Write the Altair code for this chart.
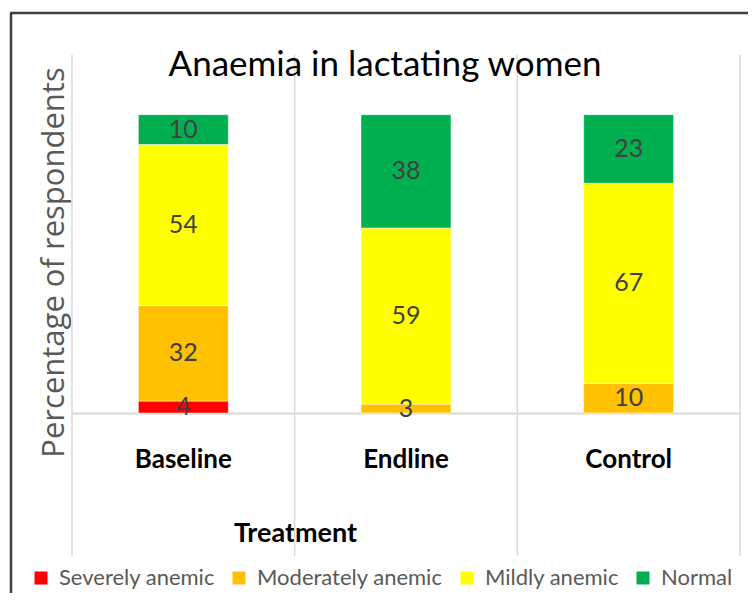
import altair as alt
import pandas as pd

treatments = ["Baseline", "Endline", "Control"]
statuses = ["Severely anemic", "Moderately anemic", "Mildly anemic", "Normal"]
severely = [4, 0, 0]
moderately = [32, 3, 10]
mildly = [54, 59, 67]
normal = [10, 38, 23]
colors = ["#FF0000", "#FFC000", "#FFFF00", "#00B050"]

rows = []
for si, (s, vals) in enumerate(zip(statuses, [severely, moderately, mildly, normal])):
    for t, v in zip(treatments, vals):
        rows.append({"Treatment": t, "Status": s, "order": si, "value": v})
df = pd.DataFrame(rows)

W, H = 668, 358
GRID = "#D9D9D9"
P_IN = 0.596
STEP = W / 3.0
HALF_GAP = STEP * P_IN / 2.0

x_axis = alt.Axis(
    title="Treatment", grid=False, ticks=False,
    domainColor=GRID, domainWidth=2, labelPadding=33, labelAngle=0,
    labelFont="Lato", labelFontSize=26, labelFontWeight="bold", labelColor="#000000",
    titleFont="Lato", titleFontSize=27, titleFontWeight="bold", titleColor="#000000",
    titleX=223, titleY=128, titleAlign="center", titleBaseline="alphabetic",
)
y_axis = alt.Axis(
    labels=False, ticks=False, domain=False, grid=False,
    title="Percentage of respondents", titleX=-9, titleY=207, titleAngle=270,
    titleAlign="center", titleBaseline="alphabetic",
    titleFont="Open Sans", titleFontSize=31, titleFontWeight="normal", titleColor="#595959",
)

xscale = alt.Scale(paddingInner=P_IN, paddingOuter=P_IN / 2)
yscale = alt.Scale(domain=[0, 120])

seps = alt.Chart(df).transform_filter("datum.order == 0").mark_rule(
    color=GRID, strokeWidth=1.5, xOffset=-HALF_GAP
).encode(
    x=alt.X("Treatment:N", sort=treatments, scale=xscale, axis=x_axis, bandPosition=0),
    y=alt.value(0), y2=alt.value(501),
)
one = pd.DataFrame({"k": [0]})
sep_last = alt.Chart(one).mark_rule(color=GRID, strokeWidth=1.5).encode(
    x=alt.value(W), y=alt.value(0), y2=alt.value(501))

bars = alt.Chart(df).transform_filter("datum.value > 0").mark_bar(
    stroke="white", strokeWidth=1, strokeOpacity=0.5
).encode(
    x=alt.X("Treatment:N", sort=treatments, scale=xscale, axis=x_axis),
    y=alt.Y("value:Q", stack="zero", scale=yscale, axis=y_axis),
    color=alt.Color("Status:N", scale=alt.Scale(domain=statuses, range=colors),
                    legend=alt.Legend(
                        title=None, orient="none", legendX=-42, legendY=512,
                        direction="horizontal", columns=4, symbolType="square",
                        symbolSize=169, symbolStrokeWidth=0, labelFont="Lato",
                        labelFontSize=22, labelColor="#595959", labelOffset=7,
                        columnPadding=13, padding=0, labelLimit=400)),
    order=alt.Order("order:Q"),
)

labels = alt.Chart(df).transform_filter("datum.value > 0").transform_stack(
    stack="value", groupby=["Treatment"], as_=["v0", "v1"],
    sort=[alt.SortField("order", order="ascending")]
).transform_calculate(mid="(datum.v0 + datum.v1) / 2").mark_text(
    font="Lato", fontSize=25, color="#404040", baseline="middle"
).encode(
    x=alt.X("Treatment:N", sort=treatments, scale=xscale, axis=x_axis),
    y=alt.Y("mid:Q", scale=yscale, axis=y_axis),
    text="value:Q",
)

frame_left = alt.Chart(one).mark_rule(color="#404040", strokeWidth=2.5).encode(
    x=alt.value(-61), y=alt.value(-42), y2=alt.value(560))
frame_top = alt.Chart(one).mark_rule(color="#404040", strokeWidth=2.5).encode(
    x=alt.value(-62), x2=alt.value(720), y=alt.value(-42))
title = alt.Chart(one).mark_text(
    text="Anaemia in lactating women", font="Lato", fontSize=35, color="#000000",
    baseline="alphabetic", align="center"
).encode(x=alt.value(313), y=alt.value(21))

chart = alt.layer(seps, sep_last, bars, labels, frame_left, frame_top, title).properties(
    width=W, height=H,
    autosize=alt.AutoSizeParams(type="none"),
    padding={"left": 64, "top": 47, "right": 8, "bottom": 180},
).configure(background="white").configure_view(stroke=None)

chart.save("out.html", embed_options={"renderer": "svg", "actions": False})
